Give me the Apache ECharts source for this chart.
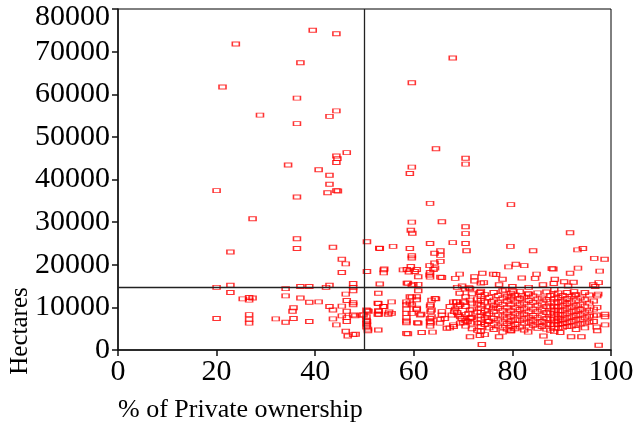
<!DOCTYPE html>
<html>
<head>
<meta charset="utf-8">
<script src="https://cdn.jsdelivr.net/npm/echarts@6/dist/echarts.min.js"></script>
<style>
  html, body { margin: 0; padding: 0; background: #fff; }
  #chart { width: 634px; height: 426px; }
</style>
</head>
<body>
<div id="chart"></div>
<script>
// % of private ownership vs. area (hectares), one mark per site.
// Sites with less than half private ownership.
const sitesMinorityPrivate = [
  [39.5,75000],[44.3,74200],[23.9,71800],[37.0,67400],[21.2,61700],[36.3,59100],[44.3,56100],[42.9,54800],
  [28.8,55100],[36.3,53100],[46.4,46300],[44.3,45500],[44.5,44900],[44.3,44000],[34.5,43400],[40.7,42300],
  [42.9,41000],[42.9,38900],[42.5,36900],[44.3,37400],[44.6,37300],[20.0,37400],[36.3,35900],[27.3,30800],
  [36.3,26100],[36.3,23800],[43.6,24100],[22.8,23000],[45.4,21300],[46.2,20200],[45.4,18200],
  [20.0,14700],[22.8,15200],[22.8,13500],[34.0,14400],[37.0,14900],[38.8,14900],[42.9,15200],[42.2,14700],
  [47.7,15600],[47.7,14700],[47.7,13900],[46.2,13100],[34.0,12700],[37.0,12200],[25.3,12000],[26.6,12300],
  [27.3,12200],[26.6,11700],[38.8,11200],[40.7,11300],[46.4,11600],[47.7,11100],[47.7,10600],[35.6,9900],
  [35.4,9100],[42.9,10200],[43.6,9400],[45.4,10300],[46.4,9100],[45.4,8000],[46.4,7600],[46.4,6700],
  [47.7,8200],[49.8,8200],[26.6,8300],[26.6,7200],[26.6,6300],[20.0,7400],[32.0,7300],[34.0,6500],
  [35.6,7400],[38.8,6700],[43.6,7300],[44.3,5900],[46.2,4400],[47.7,3600],[49.4,8200],[48.1,8000],
  [48.2,3700],[46.6,3300]
];

// Majority-private sites above the reference area line.
const sitesLargeArea = [
  [67.9,68500],[59.6,62700],[64.5,47200],[70.5,45000],[70.5,43600],[59.6,42900],[59.2,41400],[63.3,34400],
  [59.6,30000],[65.7,30100],[59.4,28100],[59.7,27400],[70.5,28900],[70.5,27300],[70.5,25000],[70.7,23300],
  [67.9,25200],[63.3,25000],[50.5,25400],[53.1,23800],[55.8,24300],[59.2,23800],[59.6,22100],[59.6,21600],
  [64.2,22700],[65.4,23300],[65.4,22200],[65.4,20800],[64.2,20400],[63.2,19800],[64.0,18900],[64.3,19200],
  [50.5,18400],[53.9,18800],[53.9,18100],[57.8,18800],[58.6,18900],[59.4,19600],[59.0,18300],[60.6,18900],
  [60.9,17200],[60.2,18400],[63.3,18200],[63.3,17100],[63.2,17600],[65.4,17100],[65.7,17000],[68.4,16800],
  [69.3,17800],[72.3,17200],[72.3,16200],[73.9,18000],[74.2,15800],[73.6,15700],[76.1,17800],[54.0,19000],
  [79.7,34100],[91.7,27500],[79.6,24300],[84.2,23300],[93.2,23500],[94.3,23800],[96.6,21500],[98.7,21300],
  [97.7,18500],[93.3,19200],[91.7,18000],[88.0,19100],[88.3,19000],[79.2,19500],[80.7,20100],[82.4,19800],
  [76.7,17700],[78.0,16600],[81.9,16900],[84.9,17800],[84.6,16800],[88.6,16600],[90.5,16000],[92.4,15900],
  [97.5,15800],[96.4,15300],[53.1,15500],[58.8,15700],[60.9,15400],[59.6,15100],[59.9,15400],[58.6,15700],
  [69.8,15000],[77.3,15300],[88.4,15600],[86.2,15300],[91.3,15000],[96.8,14900],[80.0,14900],[53.0,23900]
];

// Majority-private sites between 50 and 76 %.
const sitesMidPrivate = [
  [68.8,14700],[70.4,14300],[71.2,14600],[71.4,14400],[73.4,13500],[69.3,13300],[60.9,13900],[60.6,12500],
  [59.6,12400],[59.2,12500],[52.8,13300],[50.6,9200],[50.8,9100],[52.7,11000],[54.0,10200],[53.8,10200],
  [55.5,11300],[52.8,9200],[52.9,8400],[52.7,8400],[55.0,8900],[55.5,8600],[54.8,8400],
  [58.5,11300],[58.5,10600],[58.5,9600],[58.5,8600],[58.5,7600],[58.5,6800],[58.5,6400],[59.2,11000],
  [59.6,10600],[59.6,8600],[60.6,9800],[60.6,11800],[60.6,9500],[60.7,6400],[60.9,6300],[61.3,8200],
  [61.5,8400],[61.6,4100],[58.8,3800],[58.5,3900],[63.6,11700],[64.3,12100],[64.5,12000],[63.3,10300],
  [63.4,10600],[63.4,9000],[63.6,9400],[63.6,7800],[63.3,7400],[63.3,6700],[63.4,6300],[63.3,5600],
  [63.8,4200],[65.7,9000],[65.7,8200],[65.4,7200],[66.3,7400],[65.3,6300],[66.7,5100],[67.3,10200],
  [67.7,8200],[68.6,11300],[68.0,11300],[68.7,11300],[69.0,10200],[68.4,9600],[68.8,8800],[68.2,9000],
  [69.0,8200],[69.7,7400],[69.4,6300],[68.1,5500],[68.0,5900],[67.3,5200],[69.4,10600],[69.4,7800],
  [70.1,11300],[70.4,11300],[70.0,6400],[71.4,11700],[71.4,9400],[71.6,7600],[71.1,8600],[71.4,7400],
  [70.9,6700],[71.7,6300],[71.4,3100],[74.8,8200],[75.1,6700],[75.8,11300],[76.1,9800],
  [50.5,6700],[50.5,5900],[50.7,4900],[50.7,4500],[50.4,9400],[50.4,7800],[50.4,7000],[50.4,6300],
  [50.4,5400],[52.8,4700],[52.8,10900],[52.9,9100]
];

// Mostly-private sites (73 % and over) below the reference area line.
const sitesHighPrivate = [
  [70.5,12500],[70.5,10200],[70.5,8300],[70.5,6900],[70.5,5600],
  [71.8,13200],[71.8,11000],[71.8,9600],[71.8,7700],[71.8,5000],
  [72.9,12000],[72.9,10800],[72.9,8900],[72.9,6300],[72.9,4600],
  [73.6,13800],[73.6,12600],[73.6,11600],[73.6,10500],[73.6,9700],[73.6,8800],[73.6,8000],[73.6,7200],[73.6,6400],[73.6,5500],[73.6,4400],
  [74.4,13000],[74.4,11200],[74.4,9300],[74.4,7600],[74.4,6000],[74.4,3600],
  [75.3,12300],[75.3,10100],[75.3,8500],[75.3,6800],[75.3,5200],
  [76.2,13500],[76.2,11700],[76.2,10400],[76.2,9000],[76.2,7400],[76.2,6100],[76.2,4800],
  [77.1,12800],[77.1,11100],[77.1,9800],[77.1,8200],[77.1,7000],[77.1,5600],[77.3,3100],
  [78.0,13900],[78.0,12200],[78.0,10700],[78.0,9300],[78.0,8000],[78.0,6600],[78.0,5300],[78.0,4200],
  [78.9,12600],[78.9,11400],[78.9,10000],[78.9,8700],[78.9,7500],[78.9,6200],[78.9,4900],
  [79.7,13300],[79.7,11900],[79.7,10600],[79.7,9200],[79.7,7900],[79.7,6800],[79.7,5700],[79.7,4500],
  [80.6,12900],[80.6,11300],[80.6,9900],[80.6,8500],[80.6,7100],[80.6,6000],[80.6,5000],
  [81.5,13700],[81.5,12100],[81.5,10800],[81.5,9500],[81.5,8200],[81.5,6900],[81.5,5400],
  [82.4,12400],[82.4,11000],[82.4,9700],[82.4,8400],[82.4,7300],[82.4,6300],[82.4,4700],
  [83.3,13100],[83.3,11600],[83.3,10300],[83.3,9000],[83.3,7700],[83.3,6500],[83.3,5300],[83.2,4200],
  [84.2,12700],[84.2,11200],[84.2,9600],[84.2,8100],[84.2,6900],[84.2,5800],
  [85.1,13400],[85.1,12000],[85.1,10500],[85.1,9100],[85.1,7600],[85.1,6400],[85.1,5100],
  [86.0,12200],[86.0,10800],[86.0,9400],[86.0,8000],[86.0,6700],[86.0,5500],[86.3,3300],
  [86.9,13600],[86.9,11800],[86.9,10200],[86.9,8800],[86.9,7400],[86.9,6100],[86.9,4900],
  [87.7,12800],[87.7,11400],[87.7,10000],[87.7,8600],[87.7,7200],[87.7,6000],[87.7,4600],[87.3,1800],
  [88.5,14200],[88.5,13000],[88.5,12000],[88.5,11000],[88.5,10200],[88.5,9400],[88.5,8700],[88.5,8000],[88.5,7300],[88.5,6600],[88.5,5900],[88.5,5100],[88.5,4300],
  [89.3,13400],[89.3,12300],[89.3,11200],[89.3,10100],[89.3,9200],[89.3,8300],[89.3,7500],[89.3,6800],[89.3,6000],[89.3,5200],
  [90.2,12800],[90.2,11500],[90.2,10400],[90.2,9300],[90.2,8200],[90.2,7100],[90.2,6200],[90.2,5300],[89.7,4100],
  [91.1,13500],[91.1,12100],[91.1,10900],[91.1,9700],[91.1,8600],[91.1,7500],[91.1,6400],[91.1,5500],
  [92.0,12600],[92.0,11300],[92.0,10100],[92.0,9000],[92.0,7800],[92.0,6700],[92.0,5600],[91.9,3100],
  [92.9,13000],[92.9,11700],[92.9,10500],[92.9,9200],[92.9,8100],[92.9,7000],[92.9,5900],[92.9,4800],
  [93.8,12200],[93.8,10700],[93.8,9500],[93.8,8300],[93.8,7200],[93.8,6100],[94.0,3100],
  [94.7,11800],[94.7,10300],[94.7,8900],[94.7,7600],[94.7,6300],[94.7,5200],
  [95.6,12900],[95.6,11000],[95.6,9300],[95.6,7900],[95.6,6500],
  [96.5,11500],[96.5,9600],[96.5,8000],[96.5,6700],
  [97.2,10000],[97.1,8200],[97.1,5400],[97.2,4500],[97.5,1100],[97.4,13100],[97.2,12700],
  [98.8,8400],[98.8,7800],[98.8,5900],[94.7,13500],[92.5,13700],[92.7,12900],[83.3,14700],[78.5,14100],
  [80.2,13700],[79.8,12500],[81.9,12700],[83.2,13200],[79.7,4500],[73.4,3400],[73.8,1300]
];

// Reference lines: half private ownership, and the area split.
const ownershipSplit = 50;
const hectareSplit = 14800;

const xTicks = [0, 20, 40, 60, 80, 100];
const yTicks = [0, 10000, 20000, 30000, 40000, 50000, 60000, 70000, 80000];

const xTitle = '% of Private ownership';
const yTitle = 'Hectares';

const allSites = [].concat(sitesMinorityPrivate, sitesLargeArea, sitesMidPrivate, sitesHighPrivate);

const serif = '"Liberation Serif", "Times New Roman", serif';

const chart = echarts.init(document.getElementById('chart'), null, { renderer: 'canvas' });

const axisCommon = {
  type: 'value',
  axisLine: { show: true, onZero: false, lineStyle: { color: '#111', width: 1.5 } },
  axisTick: { show: true, inside: false, length: 6, lineStyle: { color: '#111', width: 1.5 } },
  splitLine: { show: false }
};

chart.setOption({
  animation: false,
  backgroundColor: '#ffffff',
  grid: {
    left: 118, right: 23, top: 9, bottom: 76,
    containLabel: false, outerBoundsMode: 'none',
    show: true, borderColor: '#000', borderWidth: 1, backgroundColor: 'transparent'
  },
  xAxis: Object.assign({}, axisCommon, {
    min: xTicks[0], max: xTicks[xTicks.length - 1], interval: xTicks[1] - xTicks[0],
    axisLabel: { fontFamily: serif, fontSize: 30, color: '#000', margin: 7 }
  }),
  yAxis: Object.assign({}, axisCommon, {
    min: yTicks[0], max: yTicks[yTicks.length - 1], interval: yTicks[1] - yTicks[0],
    axisLabel: {
      fontFamily: serif, fontSize: 30, color: '#000', margin: 8, lineHeight: 16,
      verticalAlignMaxLabel: 'top',
      formatter: (v) => String(v)
    }
  }),
  graphic: [
    {
      type: 'text', x: 118, y: 410,
      style: { text: xTitle, font: '26px ' + serif, fill: '#000', align: 'left', verticalAlign: 'middle' }
    },
    {
      type: 'text', x: 20, y: 331, rotation: Math.PI / 2,
      style: { text: yTitle, font: '25px ' + serif, fill: '#000', align: 'center', verticalAlign: 'middle' }
    }
  ],
  series: [{
    type: 'scatter',
    data: allSites,
    symbol: 'rect',
    symbolSize: [7, 4],
    itemStyle: { color: 'rgba(255,255,255,0)', borderColor: '#ff0000', borderWidth: 1.2 },
    markLine: {
      silent: true,
      symbol: 'none',
      label: { show: false },
      lineStyle: { color: '#222', width: 1.3, type: 'solid' },
      data: [{ xAxis: ownershipSplit }, { yAxis: hectareSplit }]
    }
  }]
});
</script>
</body>
</html>
